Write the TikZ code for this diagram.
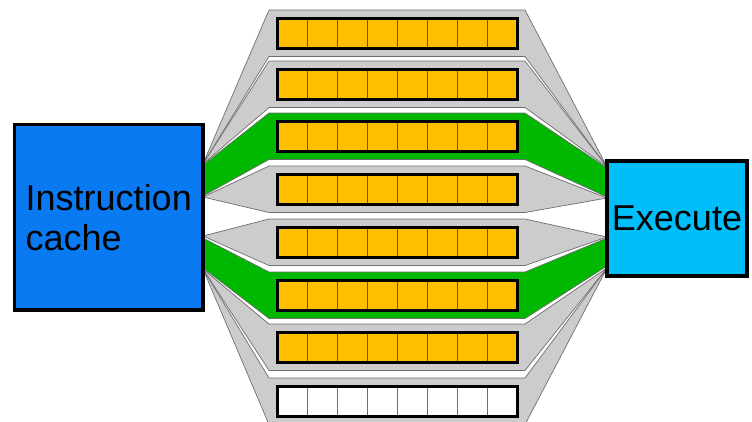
\documentclass[tikz,border=0pt]{standalone}
\usepackage{fontspec}
\setmainfont{Liberation Sans}
\usetikzlibrary{calc}
\definecolor{cacheblue}{RGB}{10,122,242}
\definecolor{execcyan}{RGB}{0,190,250}
\definecolor{fangreen}{RGB}{0,184,0}
\definecolor{fangray}{RGB}{204,204,204}
\definecolor{fanline}{RGB}{110,110,110}
\definecolor{cellorange}{RGB}{255,190,0}
\definecolor{celldiv}{RGB}{110,85,0}
\newcommand\drawfan[6]{%
  \draw[fanshape, fill=#1] (203,#2) -- (269,#4-7) -- (525,#4-7) -- (607,#5)
    -- (607,#6) -- (525,#4+39.5) -- (269,#4+39.5) -- (203,#3) -- cycle;}
\newcommand\drawpipe[4]{%
  \node[rowbox, fill=#3] (#1) at (397.5,#2+16.25) {};
  \foreach \j in {1,...,7}
    \draw[divider, draw=#4] (277.5+\j*30,#2+3) -- (277.5+\j*30,#2+29.5);}
\begin{document}
\begin{tikzpicture}[x=1pt, y=-1pt,
  fanshape/.style={draw=fanline, line width=0.7pt, line join=round},
  rowbox/.style={draw=black, line width=3pt, minimum width=240pt, minimum height=29.5pt, inner sep=0pt},
  divider/.style={line width=1pt},
  bigbox/.style={draw=black, line width=3.5pt, inner sep=0pt, align=left,
    font=\fontsize{36}{40}\selectfont}]
\useasboundingbox (0,0) rectangle (752,421);
\clip (0,0) rectangle (752,421);
% fans behind the pipelines
\drawfan{fangray}{164}{164}{17}{167}{167}
\drawfan{fangray}{164}{164}{68}{167}{167}
\drawfan{fangreen}{165}{196}{120}{168}{197}
\drawfan{fangray}{197}{197}{173}{198}{198}
\drawfan{fangray}{236}{236}{226}{237}{237}
\drawfan{fangreen}{238}{268}{279}{238}{266}
\drawfan{fangray}{269}{269}{331}{268}{268}
\drawfan{fangray}{269}{269}{385}{268}{268}
% pipelines
\drawpipe{p1}{17}{cellorange}{celldiv}
\drawpipe{p2}{68}{cellorange}{celldiv}
\drawpipe{p3}{120}{cellorange}{celldiv}
\drawpipe{p4}{173}{cellorange}{celldiv}
\drawpipe{p5}{226}{cellorange}{celldiv}
\drawpipe{p6}{279}{cellorange}{celldiv}
\drawpipe{p7}{331}{cellorange}{celldiv}
\drawpipe{p8}{385}{white}{fanline}
% boxes
\node[bigbox, fill=cacheblue, minimum width=188.5pt, minimum height=185.5pt] (cache) at (108.75,217.25) {Instruction\\cache};
\node[bigbox, fill=execcyan, minimum width=140pt, minimum height=115pt] (exec) at (677,218.5) {Execute};
\end{tikzpicture}
\end{document}
